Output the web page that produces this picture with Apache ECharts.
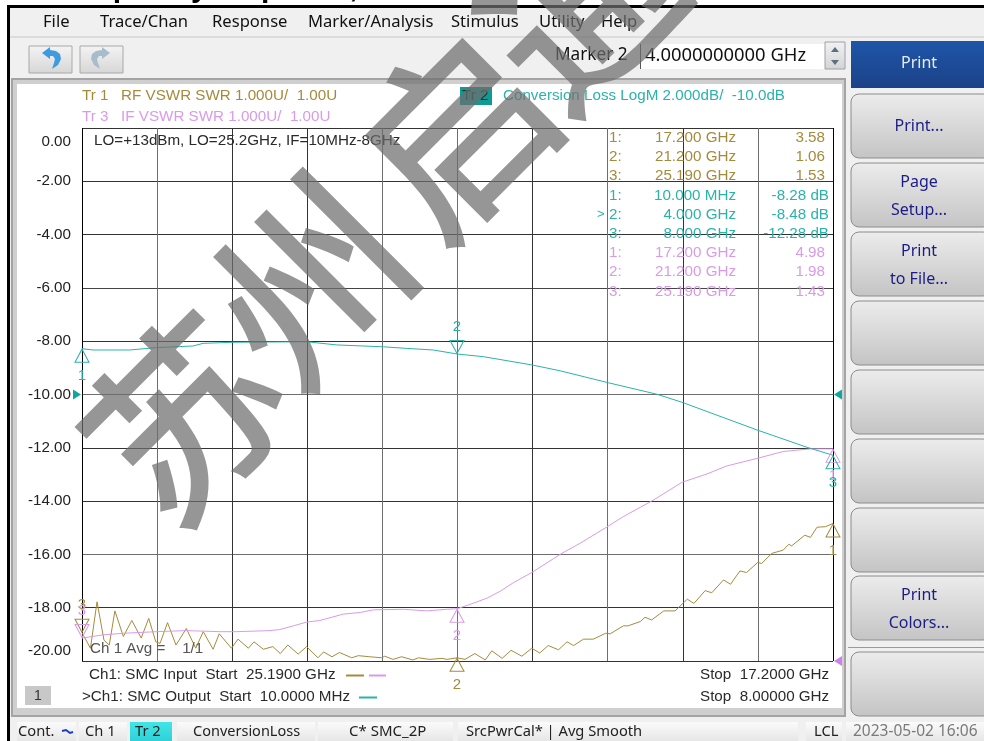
<!DOCTYPE html>
<html><head><meta charset="utf-8">
<style>html,body{margin:0;padding:0;background:#fff}#c{width:984px;height:741px}</style>
<script src="https://cdn.jsdelivr.net/npm/echarts@6/dist/echarts.min.js"></script>
</head><body><div id="c"></div>
<script>
// ---- data ----
const yTickLabels = ['-20.00','-18.00','-16.00','-14.00','-12.00','-10.00','-8.00','-6.00','-4.00','-2.00','0.00'];
// Conversion loss (dB) vs IF frequency (GHz)
const lossFreq = [0.01,0.127,0.518,0.802,1.192,1.298,1.618,2.399,2.719,3.215,3.464,3.747,4.0,4.28,4.795,5.097,5.611,6.126,6.392,7.191,7.723,8.0];
const lossDb = [-8.28,-8.33,-8.33,-8.24,-8.18,-8.08,-8.04,-8.02,-8.14,-8.21,-8.27,-8.33,-8.48,-8.58,-8.89,-9.11,-9.56,-9.99,-10.29,-11.33,-11.98,-12.28];
// RF VSWR vs RF frequency (GHz), swept from 25.19 down to 17.2
const rfFreq = [25.19,25.10,25.03,24.956,24.90,24.84,24.75,24.66,24.56,24.48,24.405,24.36,24.28,24.19,24.08,23.98,23.90,23.795,23.73,23.60,23.53,23.42,23.36,23.26,23.16,23.08,23.00,22.89,22.80,22.68,22.62,22.53,22.45,22.32,22.25,22.13,22.00,21.97,21.88,21.79,21.67,21.61,21.49,21.36,21.31,21.20,21.115,21.01,20.90,20.83,20.72,20.625,20.51,20.405,20.32,20.23,20.12,20.03,19.96,19.855,19.75,19.62,19.57,19.43,19.38,19.25,19.20,19.13,19.00,18.88,18.75,18.68,18.56,18.49,18.365,18.29,18.19,18.12,18.00,17.96,17.85,17.73,17.67,17.64,17.50,17.44,17.37,17.28,17.20];
const rfVswr = [1.53,1.24,2.11,1.39,1.30,1.94,1.46,1.76,1.43,1.80,1.36,1.33,1.72,1.30,1.61,1.24,1.55,1.22,1.51,1.24,1.41,1.24,1.36,1.22,1.27,1.14,1.30,1.13,1.27,1.06,1.17,1.08,1.16,1.06,1.10,1.08,1.06,1.09,1.03,1.08,1.02,1.06,1.03,1.05,1.03,1.06,1.03,1.14,1.02,1.19,1.05,1.20,1.09,1.24,1.15,1.29,1.21,1.36,1.29,1.41,1.41,1.52,1.51,1.66,1.66,1.74,1.82,1.77,1.94,1.94,2.16,2.08,2.32,2.28,2.52,2.44,2.69,2.66,2.85,2.83,3.02,3.08,3.19,3.16,3.36,3.32,3.51,3.52,3.58];
// IF VSWR, plotted on the same swept axis
const ifFreq = [25.19,24.97,24.75,24.40,24.08,23.72,23.55,23.19,23.085,22.94,22.80,22.66,22.41,22.23,22.09,21.77,21.52,21.31,21.20,21.08,20.88,20.74,20.60,20.405,20.085,19.89,19.61,19.43,19.11,18.81,18.54,18.33,18.01,17.73,17.44,17.20];
const ifVswr = [1.43,1.49,1.52,1.55,1.57,1.55,1.55,1.57,1.59,1.66,1.73,1.76,1.88,1.91,1.96,1.97,1.94,1.97,1.98,2.05,2.18,2.31,2.47,2.66,3.02,3.21,3.51,3.71,4.02,4.35,4.51,4.66,4.80,4.93,4.98,4.98];
// marker readouts
const rfMarkers = [[17.2,3.58],[21.2,1.06],[25.19,1.53]];
const lossMarkers = [[0.01,-8.28],[4.0,-8.48],[8.0,-12.28]];
const ifMarkers = [[17.2,4.98],[21.2,1.98],[25.19,1.43]];
const refDb = -10, refSwr = 1;
const menuItems = ['File','Trace/Chan','Response','Marker/Analysis','Stimulus','Utility','Help'];
const tableRows = [
 ['1:','17.200 GHz','3.58','rf'],['2:','21.200 GHz','1.06','rf'],['3:','25.190 GHz','1.53','rf'],
 ['1:','10.000 MHz','-8.28 dB','loss'],['2:','4.000 GHz','-8.48 dB','loss'],['3:','8.000 GHz','-12.28 dB','loss'],
 ['1:','17.200 GHz','4.98','if'],['2:','21.200 GHz','1.98','if'],['3:','25.190 GHz','1.43','if']];

// ---- colours and layout ----
const GOLD='#a68a3c', PINK='#d99be8', TEAL='#2ab3ab', INK='#2a2a2a', NAVY='#1c1c86';
const UI='"Noto Sans",sans-serif', AR='"Liberation Sans",Arial,sans-serif';
const F='15.2px '+AR;
const els=[];
const rect=(x,y,w,h,fill,extra)=>els.push(Object.assign({type:'rect',z:0,silent:true,shape:{x,y,width:w,height:h,r:(extra&&extra.r)||0},style:{fill,stroke:extra&&extra.stroke,lineWidth:extra&&extra.stroke?1:0}},extra&&extra.z!=null?{z:extra.z}:{}));
const txt=(t,x,y,font,fill,align,z)=>els.push({type:'text',silent:true,z:z==null?8:z,x,y,style:{text:t,font,fill,align:align||'left',verticalAlign:'middle'}});
const vgrad=(a,b)=>({type:'linear',x:0,y:0,x2:0,y2:1,colorStops:[{offset:0,color:a},{offset:1,color:b}]});

// window
rect(0,0,984,741,'#ffffff');
rect(7,5,977,3,'#000000');
rect(7,5,3,736,'#000000');
rect(10,8,974,733,'#f0f0f0');
rect(10,36,974,2,'#dcdcdc');
// clipped title above the window
txt('Frequency response,',56,-11,'bold 30px '+AR,'#000','left',1);
// menu
[43,100,212,308,451,539,601].forEach((x,i)=>txt(menuItems[i],x,22,'16.6px '+UI,'#111'));
// toolbar
[[29,'#3d9be0'],[80,'#a9bccb']].forEach(([x,c],i)=>{
  rect(x,46,43,27,vgrad('#f4f4f4','#d6d6d6'),{stroke:'#a8a8a8'});
  els.push({type:'polygon',silent:true,z:1,shape:{points:i===0
    ?[[42,53],[50,47],[50,50],[56,51],[60,54],[61,59],[58,65],[52,69],[54,63],[55,59],[53,56],[50,56],[50,59]]
    :[[110,53],[102,47],[102,50],[96,51],[92,54],[91,59],[94,65],[100,69],[98,63],[97,59],[99,56],[102,56],[102,59]]},style:{fill:c}});
});
txt('Marker 2',555,55,'17.2px '+UI,'#111');
rect(640,44,185,25,'#ffffff');
rect(640,44,1,25,'#555');
txt('4.0000000000 GHz',645,56,'18.4px '+UI,'#111');
rect(825,42,20,27,vgrad('#f2f2f2','#d4d4d4'),{stroke:'#9aa0a8'});
els.push({type:'polygon',silent:true,z:1,shape:{points:[[835,47],[831,52],[839,52]]},style:{fill:'#5a7080'}});
els.push({type:'polygon',silent:true,z:1,shape:{points:[[835,65],[831,60],[839,60]]},style:{fill:'#5a7080'}});
// measurement panel frame
rect(11,78,835,639,'#a4a4a4');
rect(13,80,831,635,'#cfcfcf');
rect(17,84,825,624,'#ffffff');
// softkeys
rect(851,41,133,47,vgrad('#1e55a8','#1c4288'));
txt('Print',919,63,'16px '+UI,'#e6ecf6','center');
[[94,['Print...']],[163,['Page','Setup...']],[232,['Print','to File...']],[301,[]],[370,[]],[439,[]],[508,[]],[576,['Print','Colors...']],[652,[]]].forEach(([y,ls])=>{
  rect(851,y,140,64,vgrad('#ececec','#c4c4c4'),{stroke:'#8c8c8c',r:8});
  if(ls.length===1) txt(ls[0],919,y+32,'16px '+UI,NAVY,'center');
  if(ls.length===2){txt(ls[0],919,y+19,'16px '+UI,NAVY,'center');txt(ls[1],919,y+47,'16px '+UI,NAVY,'center');}
});
rect(848,647,136,1,'#9a9a9a');
// status bar
rect(10,718,974,23,'#f0f0f0');
[[17,59],[79,48],[177,138],[318,135],[458,340],[806,36],[846,138]].forEach(([x,w])=>rect(x,722,w,19,vgrad('#fbfbfb','#e6e6e6')));
rect(130,722,42,19,vgrad('#40e6e6','#30d0d8'));
txt('Cont.',18,732,'14.7px '+UI,'#222');
els.push({type:'polyline',silent:true,z:1,shape:{points:[[62,731],[66,730],[70,733],[73,732]]},style:{stroke:'#1c3cc0',lineWidth:2,fill:'none'}});
txt('Ch 1',85,732,'14.7px '+UI,'#222');
txt('Tr 2',135,732,'14.7px '+UI,'#222');
txt('ConversionLoss',193,732,'14.5px '+UI,'#222');
txt('C* SMC_2P',349,732,'15px '+UI,'#222');
txt('SrcPwrCal* | Avg Smooth',466,732,'14.7px '+UI,'#222');
txt('LCL',814,732,'14.7px '+UI,'#222');
txt('2023-05-02 16:06',853,732,'15.5px '+UI,'#7a7a7a');
// trace headers
txt('Tr 1   RF VSWR SWR 1.000U/  1.00U',82,96,F,GOLD);
txt('Tr 3   IF VSWR SWR 1.000U/  1.00U',82,117,F,PINK);
rect(460,87,32,18,'#0f9a94');
txt('Tr 2',462,96,F,'#173030');
txt('Conversion Loss LogM 2.000dB/  -10.0dB',503,96,F,TEAL);
// annotations inside the plot
txt('LO=+13dBm, LO=25.2GHz, IF=10MHz-8GHz',94,141,F,INK);
txt('Ch 1 Avg =    1/1',90,649,F,'#555');
// marker table
const colour={rf:GOLD,loss:TEAL,if:PINK};
const rowY=[138,157,176,196,215,234,253,272,292];
tableRows.forEach((r,i)=>{
  txt(r[0],609,rowY[i],F,colour[r[3]]);
  txt(r[1],736,rowY[i],F,colour[r[3]],'right');
  txt(r[2],r[3]==='loss'?829:825,rowY[i],F,colour[r[3]],'right');
});
txt('>',597,214,'13px '+AR,TEAL);
// channel footer
txt('Ch1: SMC Input  Start  25.1900 GHz',89,675,F,INK);
rect(346,674.5,18,2,GOLD,{z:8});
rect(369,674.5,17,2,PINK,{z:8});
txt('>Ch1: SMC Output  Start  10.0000 MHz',82,697,F,INK);
rect(359,696.5,18,2,TEAL,{z:8});
rect(25,686,26,19,'#c8c8c8');
txt('1',38,696,'14px '+AR,'#333','center');
txt('Stop  17.2000 GHz',700,675,F,INK);
txt('Stop  8.00000 GHz',700,697,F,INK);
// watermark
[['苏',184,418],['州',309,281],['启',455,132],['通',580,5]].forEach(([c,x,y])=>
  els.push({type:'text',silent:true,z:60,x,y,rotation:Math.PI/4,style:{text:c,font:'500 190px "Noto Sans CJK SC"',fill:'rgba(110,110,110,0.72)',align:'center',verticalAlign:'middle'}}));

const tri=(coord,label,color,up)=>({
  coord,symbol:'triangle',symbolSize:[14,13],symbolRotate:up?0:180,symbolOffset:[0,up?7:-7],
  itemStyle:{color:'rgba(0,0,0,0)',borderColor:color,borderWidth:1},
  label:{show:true,formatter:label,color,fontSize:15,fontFamily:AR,position:up?'bottom':'top',distance:6}});
const marks=(pts,color,ups)=>pts.map((p,i)=>tri(p,String(i+1),color,ups[i]));
const ref=(coord,color,rot,off)=>({coord,symbol:'triangle',symbolSize:[10,8],symbolRotate:rot,symbolOffset:[off,0],itemStyle:{color},label:{show:false}});
const zip=(a,b)=>a.map((v,i)=>[v,b[i]]);
const line=(name,x,y,data,color,md)=>({type:'line',name,xAxisIndex:x,yAxisIndex:y,data,z:6,showSymbol:false,symbol:'none',smooth:false,animation:false,silent:true,
  lineStyle:{color,width:1},markPoint:{z:7,animation:false,silent:true,data:md}});

const vCols=['#000','#6e6e6e','#333','#333','#6e6e6e','#6e6e6e','#333','#6e6e6e','#333','#6e6e6e','#000'];
const hCols=['#333','#333','#6e6e6e','#333','#333','#6e6e6e','#333','#444','#333','#333','#333'];
const labelFont={color:'#222',fontSize:15.2,fontFamily:AR};
const chart=echarts.init(document.getElementById('c'),null,{width:984,height:741});
chart.setOption({
  animation:false,backgroundColor:'#fff',
  grid:{left:82,top:128,width:751,height:533,containLabel:false},
  xAxis:[
    {type:'value',min:0.01,max:8,show:false},
    {type:'value',min:17.2,max:25.19,inverse:true,show:false},
    {type:'value',min:0,max:10,interval:1,z:5,axisLine:{show:false},axisTick:{show:false},axisLabel:{show:false},
      splitLine:{show:true,lineStyle:{color:vCols,width:1}}}
  ],
  yAxis:[
    {type:'value',min:-20,max:0,interval:2,z:5,axisLine:{show:false},axisTick:{show:false},
      splitLine:{show:true,lineStyle:{color:hCols,width:1}},
      axisLabel:Object.assign({},labelFont,{margin:11,verticalAlignMinLabel:'bottom',verticalAlignMaxLabel:'top',
        rich:{t:Object.assign({},labelFont,{padding:[6,0,0,0]}),b:Object.assign({},labelFont,{padding:[0,0,3,0]})},
        formatter:(v)=>{const s=yTickLabels[Math.round((v+20)/2)];return v===0?'{t|'+s+'}':v===-20?'{b|'+s+'}':s;}})},
    {type:'value',min:1,max:11,show:false}
  ],
  series:[
    line('RF VSWR',1,1,zip(rfFreq,rfVswr),GOLD,marks(rfMarkers,GOLD,[true,true,false]).concat()),
    line('IF VSWR',1,1,zip(ifFreq,ifVswr),PINK,marks(ifMarkers,PINK,[true,true,false]).concat([ref([17.2,refSwr],'#cf7ff0',90,5)])),
    line('Conversion Loss',0,0,zip(lossFreq,lossDb),TEAL,marks(lossMarkers,TEAL,[true,false,true]).concat([ref([0.01,refDb],'#0aa8a0',-90,-5),ref([8,refDb],'#0aa8a0',90,5)]))
  ],
  graphic:{elements:els}
});
</script></body></html>
